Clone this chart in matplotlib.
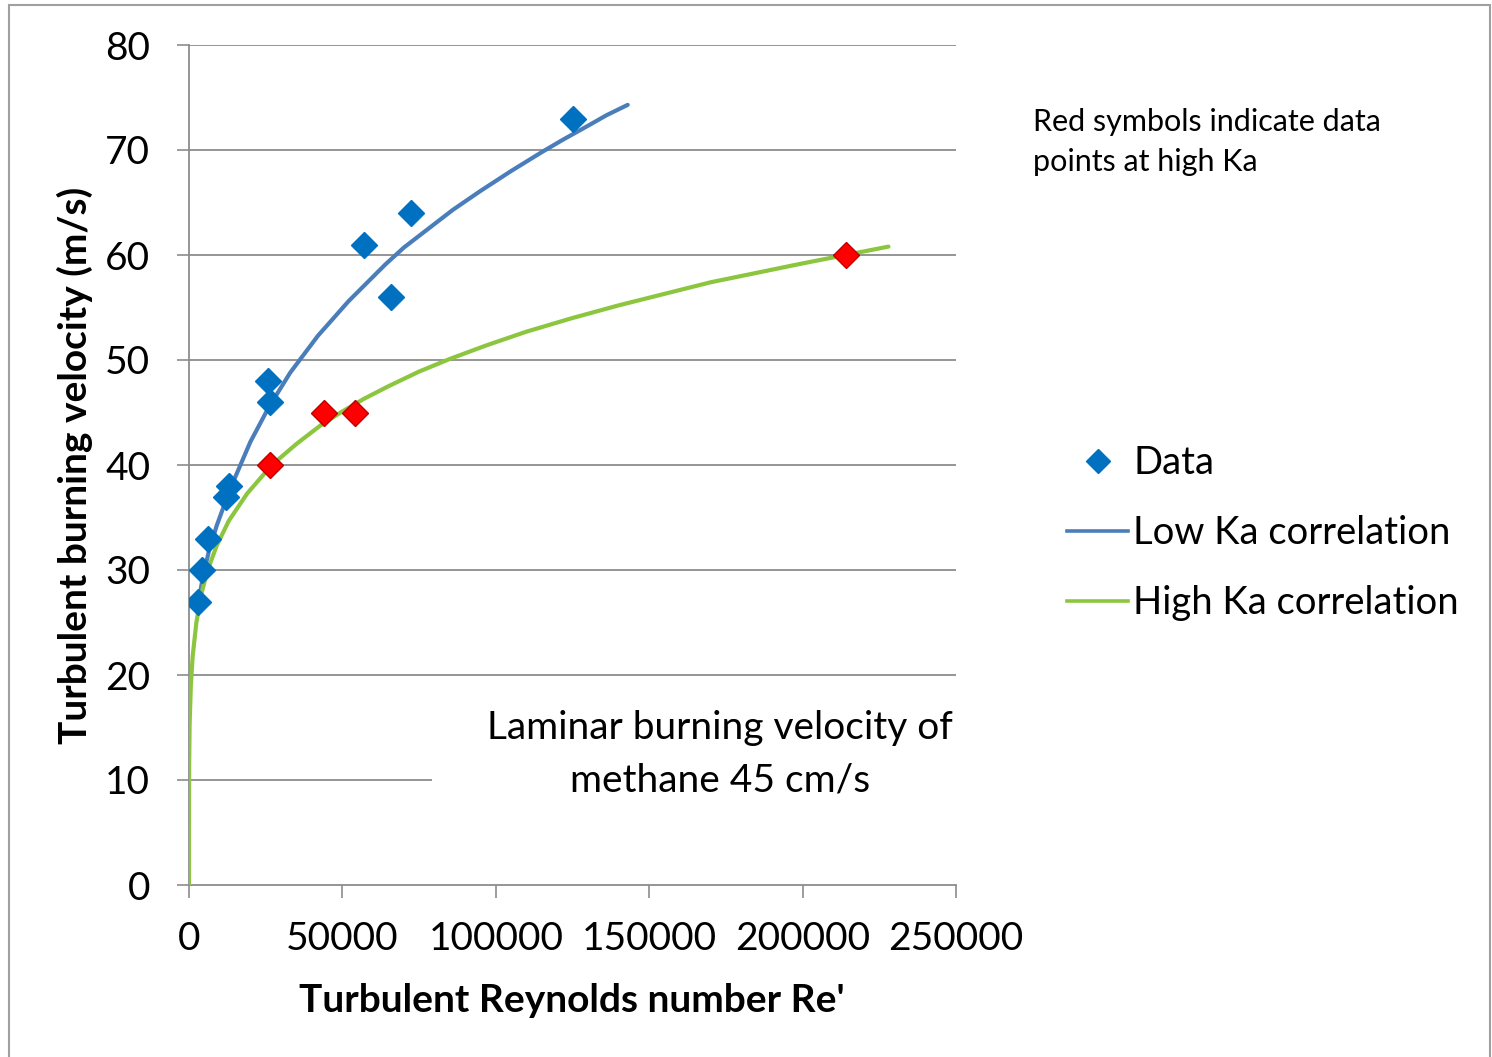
import matplotlib.pyplot as plt
from matplotlib.lines import Line2D
from matplotlib.patches import Rectangle

plt.rcParams['font.family'] = ['Lato', 'DejaVu Sans']

# Data points (low Ka in blue, high Ka in red)
blue_x = [3000, 4300, 6200, 12000, 13000, 25800, 26400, 57000, 65800, 72400, 125200]
blue_y = [27, 30, 33, 37, 38, 48, 46, 61, 56, 64, 73]
red_x = [26400, 44000, 54100, 214200]
red_y = [40, 45, 45, 60]

# Correlation curves
low_x = [3000, 4500, 6500, 9000, 12000, 15000, 20000, 26000, 33000, 42000, 52000,
         64000, 70000, 78000, 86000, 95000, 105000, 115000, 122000, 130000, 136000, 143000]
low_y = [26.8, 29.3, 31.8, 34.2, 36.6, 38.8, 42.2, 45.5, 48.8, 52.3, 55.6,
         59.1, 60.7, 62.5, 64.3, 66.1, 68.0, 69.8, 71.0, 72.3, 73.3, 74.3]
high_x = [0, 10, 50, 200, 600, 1200, 2400, 4000, 6000, 9000, 13000, 19000, 27000,
          35000, 43000, 50000, 57000, 65000, 75000, 85000, 97000, 110000, 125000,
          140000, 155000, 170000, 185000, 200000, 214000, 228000]
high_y = [0, 8, 11.5, 15.3, 19, 21.8, 25, 27.7, 29.9, 32.3, 34.7, 37.3, 40,
          42.0, 43.8, 45.1, 46.3, 47.5, 48.9, 50.1, 51.4, 52.7, 54.0,
          55.2, 56.3, 57.4, 58.3, 59.2, 60.0, 60.8]

x_ticks = [0, 50000, 100000, 150000, 200000, 250000]
y_ticks = [0, 10, 20, 30, 40, 50, 60, 70, 80]

blue_pt = '#0070C0'
blue_ln = '#4A7EBB'
green_ln = '#8CC63F'
red_pt = '#FF0000'
grid_c = '#8C8C8C'

W, H = 1492, 1057
fig = plt.figure(figsize=(W / 100, H / 100), dpi=100)
ax = fig.add_axes([189 / W, 1 - 885 / H, (956 - 189) / W, (885 - 45) / H])

ax.plot(low_x, low_y, color=blue_ln, lw=3, solid_capstyle='round', zorder=3)
ax.plot(high_x, high_y, color=green_ln, lw=3, solid_capstyle='round', zorder=3)
ax.plot(blue_x, blue_y, 'D', color=blue_pt, ms=13, mec=blue_pt, zorder=4)
ax.plot(red_x, red_y, 'D', color=red_pt, ms=13, mec='#C00000', mew=1, zorder=4)

ax.set_xlim(0, 250000)
ax.set_ylim(0, 80)
ax.set_xticks(x_ticks)
ax.set_xticklabels([str(v) for v in x_ticks])
ax.set_yticks(y_ticks)
ax.tick_params(axis='both', labelsize=28, length=9, width=1.2, color=grid_c, direction='out')
ax.tick_params(axis='x', pad=17)
ax.tick_params(axis='y', pad=19)

for y in y_ticks[1:]:
    ax.axhline(y, color=grid_c, lw=1.3, zorder=1)
for s in ['top', 'right']:
    ax.spines[s].set_visible(False)
for s in ['left', 'bottom']:
    ax.spines[s].set_color(grid_c)
    ax.spines[s].set_linewidth(1.3)

fig.text(572 / W, 1 - 1000 / H, "Turbulent Reynolds number Re'", fontsize=28,
         fontweight='bold', ha='center', va='center')
fig.text(75 / W, 1 - 465 / H, "Turbulent burning velocity (m/s)", fontsize=28,
         fontweight='bold', ha='center', va='center', rotation=90)

# white text box that hides part of the 10 gridline
ax.add_patch(Rectangle((432 / W, 1 - 815 / H), (960 - 432) / W, (815 - 692) / H,
                       transform=fig.transFigure, facecolor='white', edgecolor='none',
                       zorder=2, clip_on=False))
fig.text(720 / W, 1 - 754 / H, "Laminar burning velocity of\nmethane 45 cm/s",
         ha='center', va='center', fontsize=28, linespacing=1.58)

fig.text(1033 / W, 1 - 142 / H, "Red symbols indicate data\npoints at high Ka",
         ha='left', va='center', fontsize=22, linespacing=1.5)

handles = [Line2D([], [], ls='none', marker='D', color=blue_pt, ms=12),
           Line2D([], [], color=blue_ln, lw=2.6),
           Line2D([], [], color=green_ln, lw=2.6)]
labels = ['Data', 'Low Ka correlation', 'High Ka correlation']
fig.legend(handles, labels, loc='center left', bbox_to_anchor=(1052 / W, 1 - 533 / H),
           frameon=False, fontsize=27.5, handlelength=1.6, handletextpad=0.13,
           labelspacing=0.89, borderaxespad=0)

fig.add_artist(Rectangle((9 / W, -0.05), (1490 - 9) / W, 1.05 - 5 / H,
                         transform=fig.transFigure, fill=False, edgecolor='#A0A0A0', lw=1.5))

fig.savefig('out.png', dpi=100)
